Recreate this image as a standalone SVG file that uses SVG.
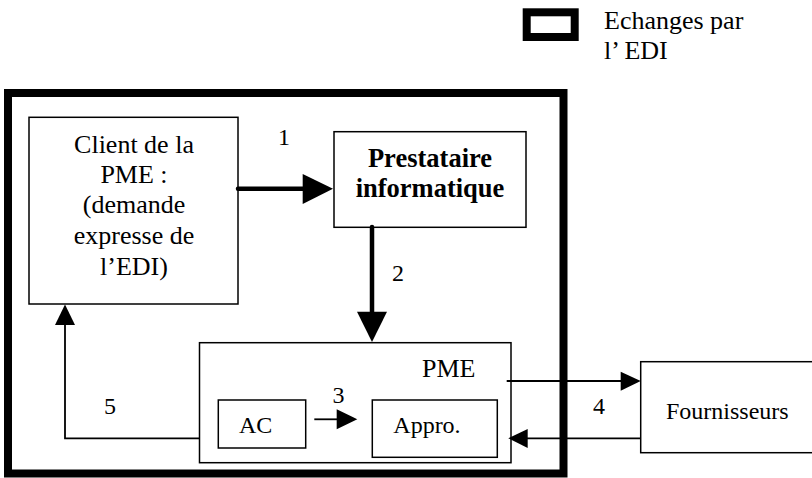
<svg xmlns="http://www.w3.org/2000/svg" width="812" height="478" viewBox="0 0 812 478">
<style>
.box{fill:#fff;stroke:#000;stroke-width:1.5}
.t{font-family:"Liberation Serif","Times New Roman",serif;fill:#000}
.thick{stroke:#000;stroke-width:4.5;fill:none;stroke-linecap:round}
.thin{stroke:#000;stroke-width:1.8;fill:none}
.hd{fill:#000}
</style>
<rect width="812" height="478" fill="#fff"/>
<g id="legend">
<rect x="526.7" y="12.3" width="48" height="24.7" fill="none" stroke="#000" stroke-width="8"/>
<text class="t" x="604" y="28.5" font-size="26">Echanges par</text>
<text class="t" x="604" y="58.5" font-size="26">l’ EDI</text>
</g>
<g id="frame">
<rect x="8" y="93" width="555.5" height="380.5" fill="none" stroke="#000" stroke-width="8"/>
</g>
<g id="client">
<rect class="box" x="29" y="117.3" width="209" height="186.7"/>
<g class="t" font-size="26" text-anchor="middle">
<text x="134" y="152.5">Client de la</text>
<text x="134" y="182.5">PME :</text>
<text x="134" y="213">(demande</text>
<text x="134" y="243.5">expresse de</text>
<text x="134" y="275">l’EDI)</text>
</g>
</g>
<g id="prestataire">
<rect class="box" x="334" y="131.7" width="192" height="95.6"/>
<text class="t" x="430" y="167" font-size="26.5" font-weight="bold" text-anchor="middle">Prestataire</text>
<text class="t" x="430" y="196.5" font-size="26.5" font-weight="bold" text-anchor="middle">informatique</text>
</g>
<g id="pme">
<rect class="box" x="199.5" y="342.7" width="311.5" height="120"/>
<text class="t" x="422" y="377.3" font-size="26">PME</text>
</g>
<g id="ac">
<rect class="box" x="218.3" y="400" width="87.4" height="48"/>
<text class="t" x="239" y="432.7" font-size="24">AC</text>
</g>
<g id="appro">
<rect class="box" x="372.3" y="400" width="125" height="57.3"/>
<text class="t" x="393.3" y="433.3" font-size="24">Appro.</text>
</g>
<g id="fournisseurs">
<rect class="box" x="640.7" y="361.7" width="180" height="91"/>
<text class="t" x="666" y="419.3" font-size="24">Fournisseurs</text>
</g>
<g id="connectors">
<line class="thick" x1="238" y1="188.7" x2="305" y2="188.7"/>
<polygon class="hd" points="302.7,174 333,188.7 302.7,204"/>
<text class="t" x="278" y="145" font-size="24">1</text>
<line class="thick" x1="372" y1="227" x2="372" y2="314"/>
<polygon class="hd" points="357,311.7 387,311.7 372,342"/>
<text class="t" x="392" y="280.7" font-size="24">2</text>
<line class="thin" x1="314.3" y1="419.3" x2="338" y2="419.3"/>
<polygon class="hd" points="336.7,409.3 357.3,419.3 336.7,429.3"/>
<text class="t" x="332.5" y="403.3" font-size="24">3</text>
<line class="thin" x1="506.7" y1="381" x2="622" y2="381"/>
<polygon class="hd" points="620.7,371.7 640.7,381 620.7,390.7"/>
<line class="thin" x1="640.7" y1="438.3" x2="526" y2="438.3"/>
<polygon class="hd" points="527.7,429 508.3,438.3 527.7,448"/>
<text class="t" x="593" y="414.3" font-size="24">4</text>
<polyline class="thin" points="199.5,438.3 65,438.3 65,323"/>
<polygon class="hd" points="55,325 65,304.5 75,325"/>
<text class="t" x="104" y="414.3" font-size="24">5</text>
</g>
</svg>
